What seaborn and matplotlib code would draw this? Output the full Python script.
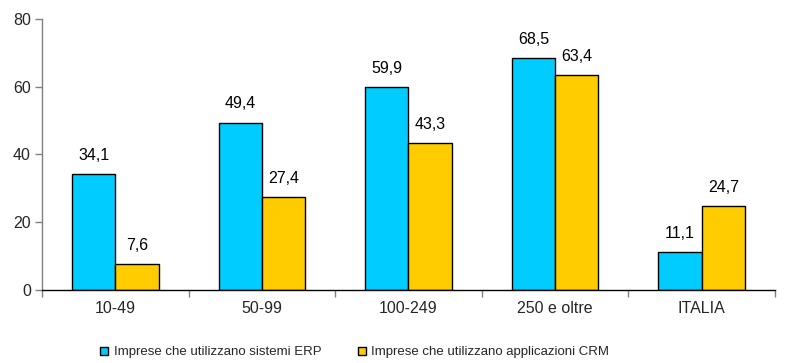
import matplotlib
matplotlib.use("Agg")
import matplotlib.pyplot as plt
import seaborn as sns
import pandas as pd
import numpy as np

categories = ["10-49", "50-99", "100-249", "250 e oltre", "ITALIA"]
erp = [34.1, 49.4, 59.9, 68.5, 11.1]
crm = [7.6, 27.4, 43.3, 63.4, 24.7]
series_names = ["Imprese che utilizzano sistemi ERP",
                "Imprese che utilizzano applicazioni CRM"]
colors = ["#00CCFF", "#FFCC00"]
y_ticks = [0, 20, 40, 60, 80]

sns.set_theme(style="white")
plt.rcParams["font.family"] = ["Liberation Sans", "DejaVu Sans"]

df = pd.DataFrame({
    "classe": categories * 2,
    "valore": erp + crm,
    "serie": [series_names[0]] * len(categories) + [series_names[1]] * len(categories),
})

fig = plt.figure(figsize=(7.89, 3.63), dpi=100)
ax = fig.add_axes([0.0532, 0.201, 0.929, 0.747])

sns.barplot(data=df, x="classe", y="valore", hue="serie", palette=colors,
            width=0.59, edgecolor="black", linewidth=1.0, saturation=1,
            ax=ax, legend=True)

for cont in ax.containers:
    ax.bar_label(cont, labels=[f"{v:.1f}".replace(".", ",") for v in cont.datavalues],
                 padding=8, fontsize=11.5, color="black")

ax.set_ylim(0, 80)
ax.set_xlim(-0.5, len(categories) - 0.5)
ax.set_yticks(y_ticks)
ax.tick_params(axis="y", length=5, width=1, color="#808080", labelsize=11.5, pad=3, direction="out", left=True)
ax.tick_params(axis="x", which="major", length=0, labelsize=11.5, pad=8)
ax.set_xticks(np.arange(len(categories) + 1) - 0.5, minor=True)
ax.tick_params(axis="x", which="minor", length=5, width=1, color="#808080", direction="out", bottom=True)
ax.set_xlabel("")
ax.set_ylabel("")

for side in ["top", "right"]:
    ax.spines[side].set_visible(False)
ax.spines["left"].set_color("#808080")
ax.spines["bottom"].set_color("black")
ax.spines["left"].set_linewidth(1.0)
ax.spines["bottom"].set_linewidth(1.0)

handles, labels = ax.get_legend_handles_labels()
ax.legend(handles, labels, loc="center", bbox_to_anchor=(0.427, -0.23), ncol=2,
          frameon=False, fontsize=9.5, handlelength=0.6, handleheight=0.6,
          handletextpad=0.4, columnspacing=2.8)

fig.savefig("out.png", dpi=100)
